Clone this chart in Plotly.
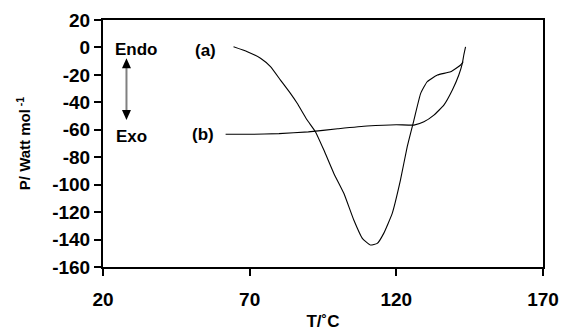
import plotly.graph_objects as go

# Curve (a)
a_T = [64.5, 69.2, 73.7, 77.1, 80.5, 83.9, 86.2, 89.6, 92.4, 95.3, 98.7, 102.1, 105.5,
       108.4, 111.2, 113.5, 115.7, 118.6, 121.4, 123.7, 126.0, 128.3, 130.5, 134.0,
       138.5, 141.9, 142.8]
a_P = [0.5, -3.1, -7.9, -14.0, -23.8, -33.5, -40.7, -52.9, -61.4, -74.8, -91.8, -106.3,
       -125.8, -139.1, -144.0, -142.8, -135.5, -120.9, -96.7, -72.4, -52.9, -33.5, -25.0,
       -20.1, -17.7, -12.8, -10.4]

# Curve (b)
b_T = [61.8, 70, 80, 90, 100, 110, 120, 126.0, 129.4, 132.8, 136.2, 139.1, 141.3,
       142.5, 143.0, 143.6]
b_P = [-63.3, -63.3, -62.8, -61.5, -59.3, -57.3, -56.3, -56.6, -54.2, -49.3, -42.0,
       -31.0, -20.1, -11.6, -5.5, 0.5]

x_ticks = [20, 70, 120, 170]
y_ticks = [20, 0, -20, -40, -60, -80, -100, -120, -140, -160]
y_ticktext = [str(v) for v in y_ticks]

FONT = "Liberation Sans, Arial, sans-serif"

fig = go.Figure()
for xs, ys in ((a_T, a_P), (b_T, b_P)):
    fig.add_trace(go.Scatter(x=xs, y=ys, mode="lines",
                             line=dict(color="black", width=1.1, shape="spline", smoothing=0.4),
                             showlegend=False, hoverinfo="skip"))

axis_common = dict(showline=True, linecolor="black", linewidth=2, mirror=True,
                   ticks="outside", ticklen=7, tickwidth=1.5, tickcolor="black",
                   showgrid=False, zeroline=False, automargin=False,
                   tickfont=dict(family=FONT, size=19, color="black", weight="bold"))

fig.update_xaxes(range=[20, 170], tickvals=x_ticks, ticklabelstandoff=7, **axis_common,
                 title=dict(text="T/˚C", font=dict(family=FONT, size=17, color="black", weight="bold"), standoff=6))
fig.update_yaxes(range=[-160, 20], tickvals=y_ticks, ticktext=y_ticktext, **axis_common,
                 title=dict(text="P/ Watt mol<sup> -1</sup>", font=dict(family=FONT, size=15, color="black", weight="bold"), standoff=18))

# page body has an 8px default margin; compensate
OFF = 8
W, H = 575 - OFF, 331 - OFF
L, R, T, B = 102.5 - OFF, 32, 20 - OFF, 64
pw, ph = W - L - R, H - T - B

def px2p(px):
    return (px - OFF - L) / pw

def py2p(py):
    return 1 - (py - OFF - T) / ph

lab_font = dict(family=FONT, size=17, color="black", weight="bold")
ann = [("(a)", 205, 50), ("(b)", 203, 134), ("Endo", 136, 49), ("Exo", 131.5, 136)]
for txt, px, py in ann:
    fig.add_annotation(x=px2p(px), y=py2p(py), xref="paper", yref="paper",
                       text=txt, showarrow=False, font=lab_font, xanchor="center", yanchor="middle")

# Double arrow: gray shaft, black heads
ax = px2p(126)
fig.add_shape(type="line", xref="paper", yref="paper", x0=ax, x1=ax, y0=py2p(66), y1=py2p(112),
              line=dict(color="#808080", width=2))
hw = 4.5 / pw
fig.add_shape(type="path", xref="paper", yref="paper",
              path=f"M {ax} {py2p(58.3)} L {ax-hw} {py2p(68.3)} L {ax+hw} {py2p(68.3)} Z",
              fillcolor="black", line=dict(color="black", width=0))
fig.add_shape(type="path", xref="paper", yref="paper",
              path=f"M {ax} {py2p(120)} L {ax-hw} {py2p(110)} L {ax+hw} {py2p(110)} Z",
              fillcolor="black", line=dict(color="black", width=0))

fig.update_layout(width=W, height=H, margin=dict(l=L, r=R, t=T, b=B),
                  plot_bgcolor="white", paper_bgcolor="white")

fig.write_html("out.html")
